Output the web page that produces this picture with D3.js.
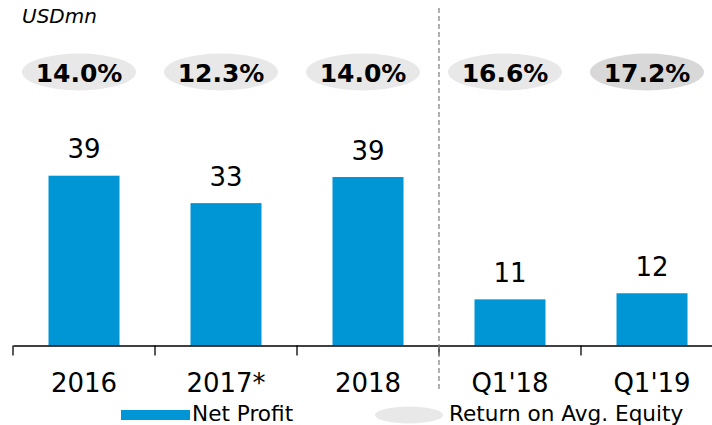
<!DOCTYPE html>
<html><head><meta charset="utf-8">
<script src="https://cdn.jsdelivr.net/npm/d3@7"></script>
<style>
html,body{margin:0;padding:0;background:#fff;}
svg{display:block;font-family:"DejaVu Sans",Verdana,sans-serif;}
</style></head>
<body><svg id="c" width="712" height="425"></svg>
<script>
const categories = ["2016", "2017*", "2018", "Q1'18", "Q1'19"];
const netProfit = [39.0, 32.7, 38.7, 10.6, 12.0];
const profitLabels = ["39", "33", "39", "11", "12"];
const roae = ["14.0%", "12.3%", "14.0%", "16.6%", "17.2%"];
const roaeFill = ["#e8e8e8", "#e8e8e8", "#e8e8e8", "#e8e8e8", "#d8d8d8"];

const svg = d3.select("#c");
const x = d3.scaleBand().domain(categories).range([13, 723]).paddingInner(0.5).paddingOuter(0.25);
const y = d3.scaleLinear().domain([0, 45]).range([345.5, 345.5 - 45 * 4.354]);

// bars
svg.append("g").selectAll("rect").data(categories).join("rect")
  .attr("x", d => x(d)).attr("width", x.bandwidth())
  .attr("y", (d, i) => y(netProfit[i])).attr("height", (d, i) => y(0) - y(netProfit[i]))
  .attr("fill", "#0096d6");

// value labels
svg.append("g").selectAll("text").data(categories).join("text")
  .attr("x", d => x(d) + x.bandwidth() / 2)
  .attr("y", (d, i) => y(netProfit[i]) - 17.5)
  .attr("text-anchor", "middle").attr("font-size", 26).attr("fill", "#000")
  .text((d, i) => profitLabels[i]);

// axis
const band = d3.scaleBand().domain(categories).range([13, 723]);
const axis = svg.append("g").attr("transform", `translate(0,${y(0)})`)
  .call(d3.axisBottom(band).tickSize(0).tickPadding(28));
axis.select(".domain").attr("stroke", "#000").attr("stroke-width", 1.3);
axis.selectAll(".tick text").attr("font-size", 26).attr("fill", "#000")
  .attr("font-family", "DejaVu Sans, Verdana, sans-serif").attr("dy", 0).attr("y", 46.5);
// boundary ticks
svg.append("g").selectAll("line").data(categories).join("line")
  .attr("x1", d => band(d)).attr("x2", d => band(d))
  .attr("y1", y(0)).attr("y2", y(0) + 10).attr("stroke", "#000").attr("stroke-width", 1.3);

// dashed separator
svg.append("line").attr("x1", band("Q1'18")).attr("x2", band("Q1'18"))
  .attr("y1", 8).attr("y2", 392).attr("stroke", "#888").attr("stroke-width", 1.3)
  .attr("stroke-dasharray", "5,3");

// ROAE ellipses
const eg = svg.append("g").selectAll("g").data(categories).join("g")
  .attr("transform", d => `translate(${x(d) + x.bandwidth() / 2 - 5},72)`);
eg.append("ellipse").attr("rx", 57).attr("ry", 18.5).attr("fill", (d, i) => roaeFill[i]);
eg.append("text").attr("text-anchor", "middle").attr("y", 9.5)
  .attr("font-size", 25).attr("font-weight", "bold").attr("fill", "#000")
  .text((d, i) => roae[i]);

// unit label
svg.append("text").attr("x", 22).attr("y", 22.5).attr("font-size", 20)
  .attr("font-style", "italic").attr("fill", "#000").text("USDmn");

// legend
svg.append("rect").attr("x", 121).attr("y", 410).attr("width", 69).attr("height", 10).attr("fill", "#0096d6");
svg.append("text").attr("x", 192).attr("y", 421).attr("font-size", 21.6).attr("fill", "#000").text("Net Profit");
svg.append("ellipse").attr("cx", 409).attr("cy", 415).attr("rx", 34).attr("ry", 8.5).attr("fill", "#e8e8e8");
svg.append("text").attr("x", 449).attr("y", 421).attr("font-size", 21.6).attr("fill", "#000").text("Return on Avg. Equity");
</script></body></html>
